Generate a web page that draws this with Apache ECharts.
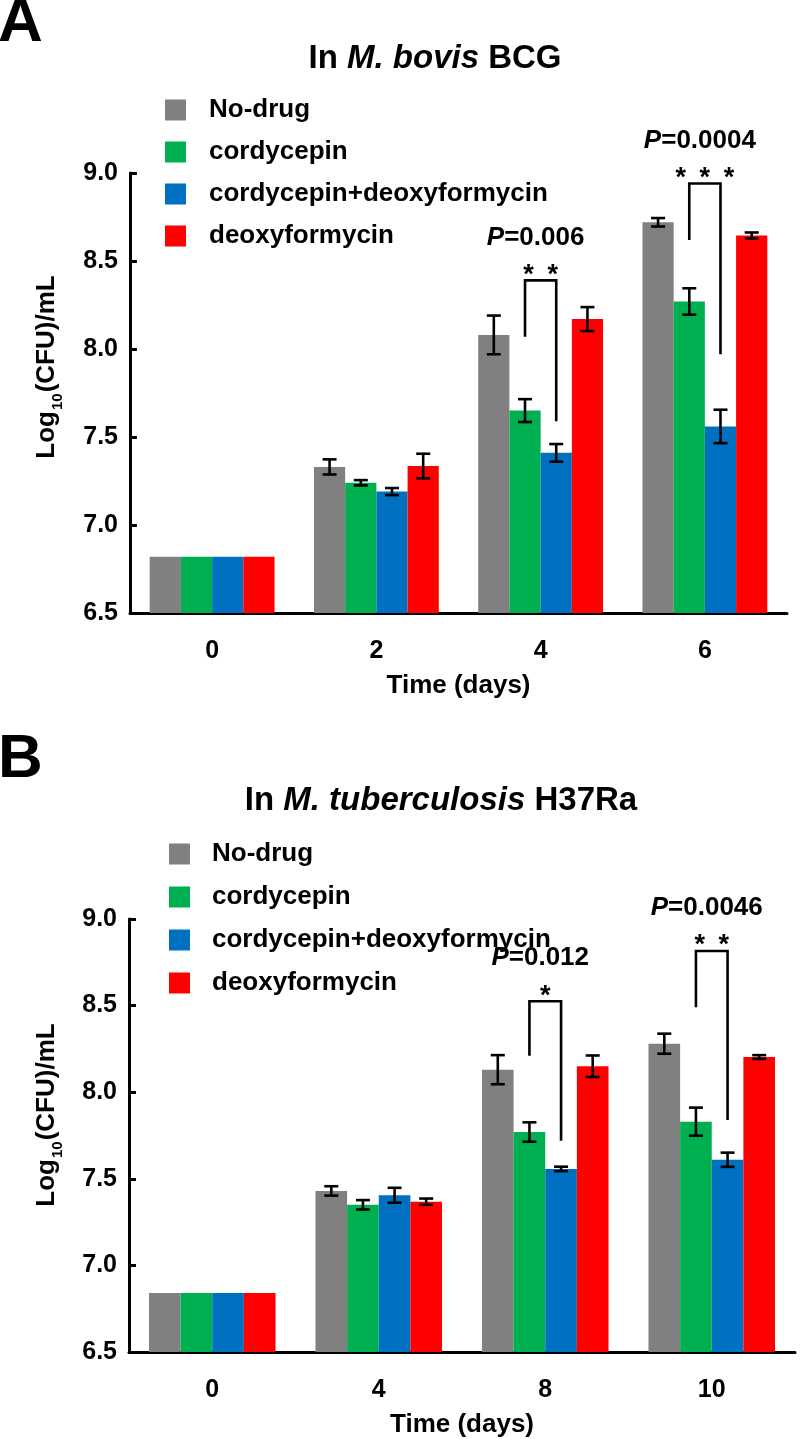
<!DOCTYPE html>
<html>
<head>
<meta charset="utf-8">
<script src="https://cdn.jsdelivr.net/npm/echarts@6/dist/echarts.min.js"></script>
<style>
html,body{margin:0;padding:0;background:#fff;}
#chart{width:800px;height:1439px;}
</style>
</head>
<body>
<div id="chart"></div>
<script>
// ---------- DATA ----------
const seriesNames = ['No-drug', 'cordycepin', 'cordycepin+deoxyformycin', 'deoxyformycin'];
const colors = ['#808080', '#00B050', '#0070C0', '#FF0000'];

// Panel A: In M. bovis BCG
const catsA = ['0', '2', '4', '6'];
const noDrugA = [6.82, 7.33, 8.08, 8.72];
const noDrugErrA = [0, 0.043, 0.11, 0.024];
const cordA = [6.82, 7.24, 7.65, 8.27];
const cordErrA = [0, 0.015, 0.065, 0.075];
const comboA = [6.82, 7.19, 7.41, 7.56];
const comboErrA = [0, 0.02, 0.05, 0.095];
const deoxyA = [6.82, 7.335, 8.17, 8.645];
const deoxyErrA = [0, 0.07, 0.068, 0.017];
// significance brackets (category index, top, left-leg end, right-leg end)
const sigCatA = [2, 3];
const sigTopA = [8.39, 8.94];
const sigLeftA = [8.07, 8.62];
const sigRightA = [7.59, 7.97];
const sigStarsA = ['*\u2002*', '*\u2002*\u2002*'];
const sigPA = ['0.006', '0.0004'];

// Panel B: In M. tuberculosis H37Ra
const catsB = ['0', '4', '8', '10'];
const noDrugB = [6.84, 7.43, 8.13, 8.28];
const noDrugErrB = [0, 0.027, 0.084, 0.058];
const cordB = [6.84, 7.35, 7.77, 7.83];
const cordErrB = [0, 0.027, 0.056, 0.081];
const comboB = [6.84, 7.405, 7.557, 7.61];
const comboErrB = [0, 0.043, 0.013, 0.041];
const deoxyB = [6.84, 7.368, 8.15, 8.203];
const deoxyErrB = [0, 0.018, 0.062, 0.011];
const sigCatB = [2, 3];
const sigTopB = [8.525, 8.815];
const sigLeftB = [8.21, 8.49];
const sigRightB = [7.72, 7.84];
const sigStarsB = ['*', '*\u2002*'];
const sigPB = ['0.012', '0.0046'];

const yTicks = [6.5, 7.0, 7.5, 8.0, 8.5, 9.0];

// ---------- BUILD ----------
const FONT = "'Liberation Sans', Arial, Helvetica, sans-serif";
const GAP = 0.24;
const chart = echarts.init(document.getElementById('chart'), null, {renderer: 'canvas'});

function errData(vals, errs) {
  const out = [];
  vals.forEach((arr, k) => arr.forEach((v, i) => out.push([i, v, errs[k][i], k])));
  return out;
}
function errRender(params, api) {
  const cat = api.value(0), val = api.value(1), err = api.value(2), k = api.value(3);
  if (!err) return null;
  const c = api.coord([cat, val]);
  const band = api.size([1, 0])[0];
  const barW = band * (1 - GAP) / 4;
  const x = c[0] + (k - 1.5) * barW;
  const yHi = api.coord([cat, val + err])[1];
  const yLo = api.coord([cat, val - err])[1];
  const cap = 7;
  const st = {stroke: '#000', lineWidth: 2.6};
  return {type: 'group', children: [
    {type: 'line', shape: {x1: x, y1: yHi, x2: x, y2: yLo}, style: st},
    {type: 'line', shape: {x1: x - cap, y1: yHi, x2: x + cap, y2: yHi}, style: st},
    {type: 'line', shape: {x1: x - cap, y1: yLo, x2: x + cap, y2: yLo}, style: st}
  ]};
}
function sigData(cats, tops, lefts, rights) {
  return cats.map((c, i) => [c, tops[i], lefts[i], rights[i], i]);
}
function makeSigRender(stars, ps) {
  return function (params, api) {
    const cat = api.value(0), top = api.value(1), le = api.value(2), re = api.value(3), idx = api.value(4);
    const c = api.coord([cat, top]);
    const band = api.size([1, 0])[0];
    const barW = band * (1 - GAP) / 4;
    const xl = c[0] - barW / 2, xr = c[0] + barW / 2;
    const yT = c[1];
    const yL = api.coord([cat, le])[1];
    const yR = api.coord([cat, re])[1];
    return {type: 'group', children: [
      {type: 'polyline', shape: {points: [[xl, yL], [xl, yT], [xr, yT], [xr, yR]]},
        style: {stroke: '#000', lineWidth: 2.6, fill: null}},
      {type: 'text', style: {text: stars[idx], x: c[0], y: yT - 5, align: 'center', verticalAlign: 'middle',
        font: 'bold 27px ' + FONT, fill: '#000'}},
      {type: 'text', style: {text: '{pi|P}{pn|=' + ps[idx] + '}', x: c[0] - 5, y: yT - 43, align: 'center', verticalAlign: 'middle',
        fill: '#000',
        rich: {
          pi: {fontStyle: 'italic', fontWeight: 'bold', fontSize: 26, fontFamily: FONT, fill: '#000'},
          pn: {fontWeight: 'bold', fontSize: 26, fontFamily: FONT, fill: '#000'}
        }}}
    ]};
  };
}

function xAxisCfg(gi, cats) {
  return {
    type: 'category', gridIndex: gi, data: cats,
    axisLine: {lineStyle: {color: '#000', width: 3}},
    axisTick: {inside: true, length: 9, lineStyle: {color: '#000', width: 3}},
    axisLabel: {color: '#000', fontSize: 25, fontWeight: 'bold', fontFamily: FONT, margin: 26},
    splitLine: {show: false},
    name: 'Time (days)', nameLocation: 'middle', nameGap: 60,
    nameTextStyle: {color: '#000', fontSize: 26, fontWeight: 'bold', fontFamily: FONT}
  };
}
function yAxisCfg(gi) {
  return {
    type: 'value', gridIndex: gi, min: yTicks[0], max: yTicks[yTicks.length - 1], interval: 0.5,
    axisLine: {show: true, lineStyle: {color: '#000', width: 3}},
    axisTick: {show: true, inside: true, length: 7, lineStyle: {color: '#000', width: 3}},
    axisLabel: {color: '#000', fontSize: 25, fontWeight: 'bold', fontFamily: FONT, margin: 12,
      padding: [6, 0, 0, 0], formatter: v => v.toFixed(1)},
    splitLine: {show: false}
  };
}

const valsA = [noDrugA, cordA, comboA, deoxyA];
const errsA = [noDrugErrA, cordErrA, comboErrA, deoxyErrA];
const valsB = [noDrugB, cordB, comboB, deoxyB];
const errsB = [noDrugErrB, cordErrB, comboErrB, deoxyErrB];

const series = [];
[[valsA, 0], [valsB, 1]].forEach(([vals, gi]) => {
  vals.forEach((arr, k) => series.push({
    type: 'bar', name: seriesNames[k], xAxisIndex: gi, yAxisIndex: gi, data: arr,
    barGap: '0%', barCategoryGap: (GAP * 100) + '%',
    itemStyle: {color: colors[k]}, silent: true, animation: false
  }));
});
series.push({type: 'custom', xAxisIndex: 0, yAxisIndex: 0, data: errData(valsA, errsA), renderItem: errRender, z: 5, silent: true, animation: false, encode: {x: 0, y: 1}});
series.push({type: 'custom', xAxisIndex: 1, yAxisIndex: 1, data: errData(valsB, errsB), renderItem: errRender, z: 5, silent: true, animation: false, encode: {x: 0, y: 1}});
series.push({type: 'custom', xAxisIndex: 0, yAxisIndex: 0, data: sigData(sigCatA, sigTopA, sigLeftA, sigRightA), renderItem: makeSigRender(sigStarsA, sigPA), z: 6, silent: true, animation: false, clip: false, encode: {x: 0, y: 1}});
series.push({type: 'custom', xAxisIndex: 1, yAxisIndex: 1, data: sigData(sigCatB, sigTopB, sigLeftB, sigRightB), renderItem: makeSigRender(sigStarsB, sigPB), z: 6, silent: true, animation: false, clip: false, encode: {x: 0, y: 1}});

function legendCfg(left, top, gap, padL) {
  return {
    data: seriesNames, orient: 'vertical', left: left, top: top, icon: 'rect',
    itemWidth: 21, itemHeight: 21, itemGap: gap, selectedMode: false,
    textStyle: {color: '#000', fontSize: 26, fontWeight: 'bold', fontFamily: FONT, lineHeight: 21, padding: [0, 0, 0, padL]}
  };
}

const titleRich = {
  n: {fontSize: 33, fontWeight: 'bold', fontFamily: FONT, fill: '#000'},
  i: {fontSize: 33, fontWeight: 'bold', fontStyle: 'italic', fontFamily: FONT, fill: '#000'}
};
const yNameRich = {
  a: {fontSize: 26, fontWeight: 'bold', fontFamily: FONT, fill: '#000'},
  s: {fontSize: 15, fontWeight: 'bold', fontFamily: FONT, fill: '#000', verticalAlign: 'bottom', padding: [0, 1, -5, 1]}
};

const option = {
  backgroundColor: '#fff',
  animation: false,
  grid: [
    {left: 130, top: 173, width: 657, height: 440, containLabel: false},
    {left: 129, top: 919, width: 666, height: 436, containLabel: false}
  ],
  xAxis: [xAxisCfg(0, catsA), xAxisCfg(1, catsB)],
  yAxis: [yAxisCfg(0), yAxisCfg(1)],
  legend: [legendCfg(160, 92, 16, 18), legendCfg(164, 836, 17, 17)],
  graphic: [
    {type: 'text', left: -2, top: -7, style: {text: 'A', font: 'bold 62px ' + FONT, fill: '#000'}},
    {type: 'text', left: -2, top: 729, style: {text: 'B', font: 'bold 62px ' + FONT, fill: '#000'}},
    {type: 'text', x: 435, y: 59, style: {text: '{n|In }{i|M. bovis}{n| BCG}', align: 'center', verticalAlign: 'middle', rich: titleRich}},
    {type: 'text', x: 441, y: 801, style: {text: '{n|In }{i|M. tuberculosis}{n| H37Ra}', align: 'center', verticalAlign: 'middle', rich: titleRich}},
    {type: 'text', x: 47, y: 367, rotation: Math.PI / 2, style: {text: '{a|Log}{s|10}{a|(CFU)/mL}', align: 'center', verticalAlign: 'middle', rich: yNameRich}},
    {type: 'text', x: 47, y: 1115, rotation: Math.PI / 2, style: {text: '{a|Log}{s|10}{a|(CFU)/mL}', align: 'center', verticalAlign: 'middle', rich: yNameRich}}
  ],
  series: series
};
chart.setOption(option);
</script>
</body>
</html>
